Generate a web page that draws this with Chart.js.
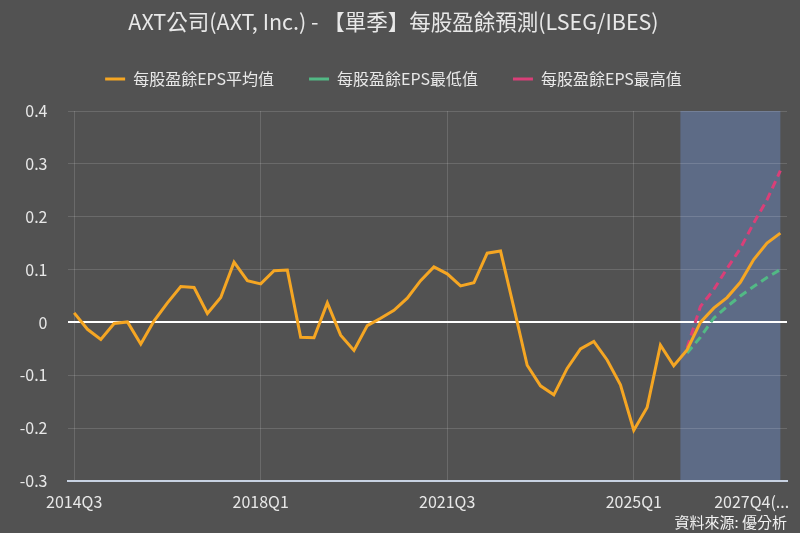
<!DOCTYPE html>
<html>
<head>
<meta charset="utf-8">
<script src="https://cdn.jsdelivr.net/npm/chart.js@4"></script>
<style>
  html, body { margin: 0; padding: 0; background: #525252; }
  #wrap { width: 800px; height: 533px; }
</style>
</head>
<body>
<div id="wrap"><canvas id="c" width="800" height="533"></canvas></div>
<script>
const categories = [
  '2014Q3','2014Q4','2015Q1','2015Q2','2015Q3','2015Q4','2016Q1','2016Q2','2016Q3','2016Q4',
  '2017Q1','2017Q2','2017Q3','2017Q4','2018Q1','2018Q2','2018Q3','2018Q4','2019Q1','2019Q2',
  '2019Q3','2019Q4','2020Q1','2020Q2','2020Q3','2020Q4','2021Q1','2021Q2','2021Q3','2021Q4',
  '2022Q1','2022Q2','2022Q3','2022Q4','2023Q1','2023Q2','2023Q3','2023Q4','2024Q1','2024Q2',
  '2024Q3','2024Q4','2025Q1','2025Q2','2025Q3','2025Q4','2026Q1','2026Q2','2026Q3','2026Q4',
  '2027Q1','2027Q2','2027Q3','2027Q4'
];
const tickLabels = ['2014Q3', '2018Q1', '2021Q3', '2025Q1', '2027Q4(...'];
const epsAvg = [
  0.018, -0.013, -0.032, -0.002, 0.001, -0.041, 0.003, 0.037, 0.068, 0.066,
  0.017, 0.047, 0.114, 0.079, 0.073, 0.098, 0.099, -0.028, -0.029, 0.037,
  -0.024, -0.053, -0.006, 0.008, 0.023, 0.046, 0.079, 0.105, 0.092, 0.069,
  0.075, 0.131, 0.135, 0.028, -0.081, -0.120, -0.137, -0.087, -0.050, -0.036,
  -0.071, -0.118, -0.204, -0.161, -0.043, -0.082, -0.052, 0.000, 0.027, 0.047,
  0.076, 0.119, 0.150, 0.169
];
const epsLow = [
  null, null, null, null, null, null, null, null, null, null,
  null, null, null, null, null, null, null, null, null, null,
  null, null, null, null, null, null, null, null, null, null,
  null, null, null, null, null, null, null, null, null, null,
  null, null, null, null, null, null, -0.058, -0.028, 0.008, 0.030,
  0.050, 0.068, 0.085, 0.100
];
const epsHigh = [
  null, null, null, null, null, null, null, null, null, null,
  null, null, null, null, null, null, null, null, null, null,
  null, null, null, null, null, null, null, null, null, null,
  null, null, null, null, null, null, null, null, null, null,
  null, null, null, null, null, null, -0.048, 0.030, 0.062, 0.102,
  0.140, 0.188, 0.232, 0.287
];
const yTicks = [0.4, 0.3, 0.2, 0.1, 0, -0.1, -0.2, -0.3];
const forecastStart = '2026Q1';
const forecastEnd = '2027Q4';

const FONT = "'Noto Sans CJK TC', 'Noto Sans', sans-serif";
const TEXT = '#e8e8e8';

const forecastBox = {
  id: 'forecastBox',
  beforeDraw(chart) {
    const x = chart.scales.x, y = chart.scales.y;
    const i0 = categories.indexOf(forecastStart) - 0.5;
    const i1 = categories.indexOf(forecastEnd);
    const left = x.getPixelForValue(i0);
    const right = x.getPixelForValue(i1);
    const ctx = chart.ctx;
    ctx.save();
    ctx.fillStyle = '#5d6b86';
    ctx.fillRect(left, y.top, right - left, y.bottom - y.top);
    ctx.restore();
  }
};

new Chart(document.getElementById('c'), {
  type: 'line',
  data: {
    labels: categories,
    datasets: [
      { label: '每股盈餘EPS平均值', data: epsAvg, borderColor: '#f5a623', backgroundColor: '#f5a623',
        borderWidth: 3, pointRadius: 0, pointStyle: 'line', tension: 0, spanGaps: false },
      { label: '每股盈餘EPS最低值', data: epsLow, borderColor: '#52b985', backgroundColor: '#52b985',
        borderWidth: 3, borderDash: [8, 5], pointRadius: 0, pointStyle: 'line', tension: 0 },
      { label: '每股盈餘EPS最高值', data: epsHigh, borderColor: '#d93f78', backgroundColor: '#d93f78',
        borderWidth: 3, borderDash: [8, 5], pointRadius: 0, pointStyle: 'line', tension: 0 }
    ]
  },
  options: {
    responsive: false,
    animation: false,
    devicePixelRatio: 1,
    layout: { padding: { left: 0, right: 13, top: 0, bottom: 2 } },
    plugins: {
      title: { display: true, text: 'AXT公司(AXT, Inc.) - 【單季】每股盈餘預測(LSEG/IBES)',
        color: TEXT, font: { family: FONT, size: 21.5, weight: 'normal' }, padding: { top: 9, bottom: 1.2 } },
      subtitle: { display: true, position: 'bottom', align: 'end', text: '資料來源: 優分析',
        color: '#f2f2f2', font: { family: FONT, size: 15, weight: 'normal' }, padding: { top: 0, bottom: 0 } },
      legend: { display: true, position: 'top',
        labels: { color: TEXT, font: { family: FONT, size: 16 }, usePointStyle: true, pointStyleWidth: 20,
          boxWidth: 20, boxHeight: 3, padding: 35 } },
      tooltip: { enabled: false }
    },
    scales: {
      x: {
        type: 'category',
        offset: true,
        border: { display: true, color: '#c8d2e2', width: 2 },
        grid: { offset: false, drawTicks: false,
          color: (c) => { const l = categories[c.index];
            return (c.index !== categories.length - 1 && tickLabels.includes(l)) ? 'rgba(255,255,255,0.14)' : 'rgba(0,0,0,0)'; } },
        ticks: { autoSkip: false, maxRotation: 0, color: TEXT, padding: 11,
          font: { family: FONT, size: 16 },
          callback: function (v, i) {
            const l = categories[i];
            const t = tickLabels.find(s => s.startsWith(l));
            if (!t) return '';
            return i === categories.length - 1 ? t + '                ' : t;
          } },
        afterFit: (s) => { s.paddingLeft = 0; s.paddingRight = 0; s.height = 32; }
      },
      xTopSpacer: {
        type: 'category',
        position: 'top',
        offset: true,
        border: { display: false },
        grid: { display: false, drawTicks: false },
        ticks: { display: false },
        afterFit: (s) => { s.paddingLeft = 0; s.paddingRight = 0; s.height = 14; }
      },
      y: {
        min: -0.3, max: 0.4,
        border: { display: false },
        grid: { drawTicks: false,
          color: (c) => c.tick.value === 0 ? '#ffffff' : 'rgba(255,255,255,0.14)',
          lineWidth: (c) => c.tick.value === 0 ? 2 : 1 },
        afterBuildTicks: (s) => { s.ticks = yTicks.map(v => ({ value: v })); },
        ticks: { color: TEXT, padding: 20, font: { family: FONT, size: 16 },
          callback: (v) => String(Math.round(v * 10) / 10) },
        afterFit: (s) => { s.width = 67.5; }
      }
    }
  },
  plugins: [forecastBox]
});
</script>
</body>
</html>
